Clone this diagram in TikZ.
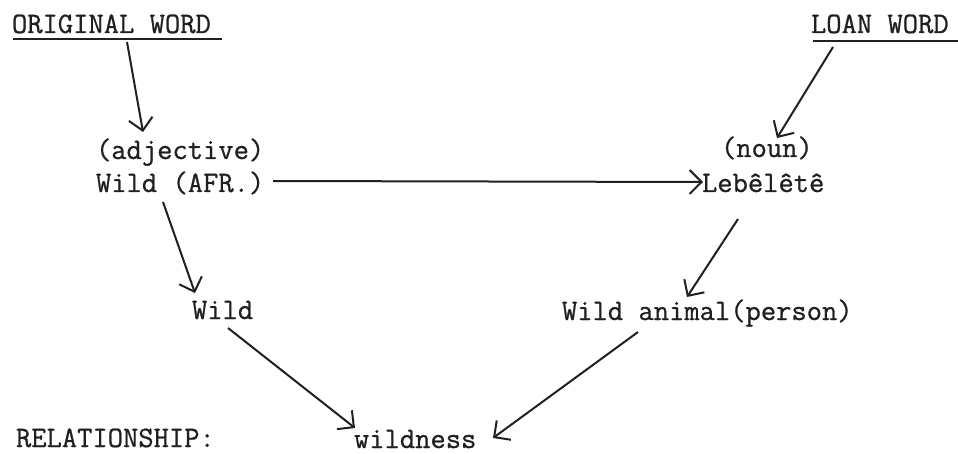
\documentclass[tikz,border=0pt]{standalone}
\usepackage{fontspec}
\newfontfamily\twfont{Latin Modern Mono}[FakeBold=0.8]
\usetikzlibrary{arrows.meta}
\begin{document}
\begin{tikzpicture}[x=1pt,y=-1pt,
  lbl/.style={anchor=base west,inner sep=0pt,outer sep=0pt,text=ink,
    font=\fontsize{29.7}{34}\selectfont\twfont},
  conn/.style={draw=ink,line width=2pt,
    -{Straight Barb[length=12pt,width=24pt]}},
  uline/.style={draw=ink,line width=1.6pt}]
\definecolor{ink}{HTML}{202020}
\useasboundingbox[fill=white] (0,0) rectangle (958,454);
% nodes
\node[lbl] (orig) at (12,33) {ORIGINAL WORD};
\node[lbl] (loan) at (811,33) {LOAN WORD};
\node[lbl] (adj) at (96,159) {(adjective)};
\node[lbl] (wafr) at (96,192) {Wild (AFR.)};
\node[lbl] (noun) at (721,157) {(noun)};
\node[lbl] (leb) at (702,192) {Lebêlêtê};
\node[lbl] (wild) at (192,319) {Wild};
\node[lbl] (wan) at (562,320) {Wild animal(person)};
\node[lbl] (rel) at (16,447) {RELATIONSHIP:};
\node[lbl] (wness) at (354,448) {wildness};
% underlines
\draw[uline] (13,39) -- (222,39);
\draw[uline] (813,41) -- (958,41);
% connector end points
\coordinate (o1) at (127,42);  \coordinate (a1) at (143,132);
\coordinate (l1) at (833,47);  \coordinate (n1) at (777,138);
\coordinate (w1) at (273,181); \coordinate (b1) at (703,182);
\coordinate (w2) at (163,202); \coordinate (d1) at (195,293);
\coordinate (b2) at (738,219); \coordinate (m1) at (687,297);
\coordinate (d2) at (228,328); \coordinate (s1) at (355,428);
\coordinate (m2) at (638,332); \coordinate (s2) at (493,438);
% connectors
\draw[conn] (o1) -- (a1);
\draw[conn] (l1) -- (n1);
\draw[conn] (w1) -- (b1);
\draw[conn] (w2) -- (d1);
\draw[conn] (b2) -- (m1);
\draw[conn] (d2) -- (s1);
\draw[conn] (m2) -- (s2);
\end{tikzpicture}
\end{document}
